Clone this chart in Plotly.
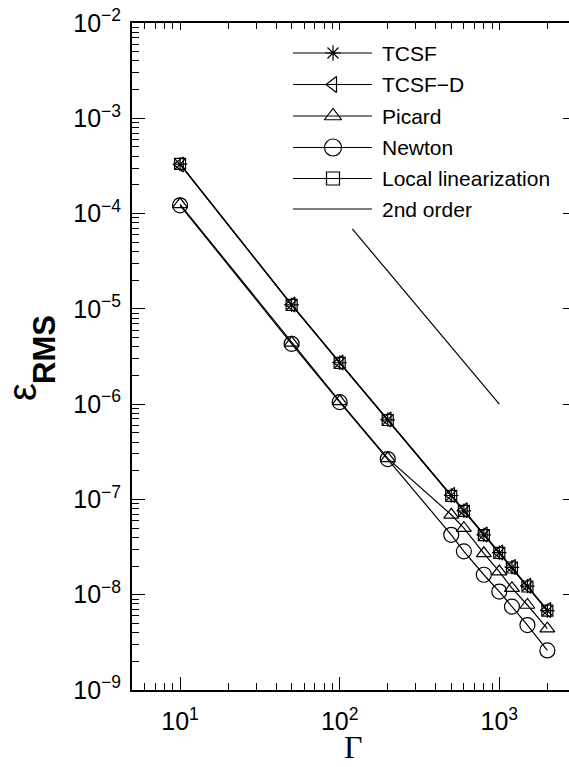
import plotly.graph_objects as go

# Grid parameter and RMS errors of each solver
gamma = [10, 50, 100, 200, 500, 600, 800, 1000, 1200, 1500, 2000]
err_tcsf = [3.30e-4, 1.10e-5, 2.72e-6, 6.85e-7, 1.10e-7, 7.6e-8, 4.25e-8, 2.76e-8, 1.94e-8, 1.23e-8, 6.8e-9]
err_tcsf_d = [3.28e-4, 1.11e-5, 2.74e-6, 6.90e-7, 1.11e-7, 7.7e-8, 4.28e-8, 2.78e-8, 1.95e-8, 1.24e-8, 6.9e-9]
err_picard = [1.25e-4, 4.40e-6, 1.07e-6, 2.70e-7, 6.9e-8, 5.0e-8, 2.72e-8, 1.75e-8, 1.17e-8, 7.8e-9, 4.4e-9]
err_newton = [1.22e-4, 4.30e-6, 1.05e-6, 2.65e-7, 4.25e-8, 2.85e-8, 1.62e-8, 1.08e-8, 7.5e-9, 4.8e-9, 2.6e-9]
err_local = [3.32e-4, 1.10e-5, 2.71e-6, 6.82e-7, 1.09e-7, 7.6e-8, 4.23e-8, 2.75e-8, 1.93e-8, 1.22e-8, 6.8e-9]

# Reference slope line
order2_gamma = [120, 1000]
order2_err = [6.9e-5, 1.0e-6]

# Tick labels
x_ticks = [10, 100, 1000]
x_tick_text = ["10<sup>1</sup>", "10<sup>2</sup>", "10<sup>3</sup>"]
y_ticks = [1e-9, 1e-8, 1e-7, 1e-6, 1e-5, 1e-4, 1e-3, 1e-2]
y_tick_text = ["10<sup>\u22129</sup>", "10<sup>\u22128</sup>", "10<sup>\u22127</sup>",
               "10<sup>\u22126</sup>", "10<sup>\u22125</sup>", "10<sup>\u22124</sup>",
               "10<sup>\u22123</sup>", "10<sup>\u22122</sup>"]

# Series styling: name, data, marker symbol, plot marker size, legend marker size
series = [
    ("TCSF", err_tcsf, "asterisk-open", 12, 13),
    ("TCSF\u2212D", err_tcsf_d, "triangle-left-open", 13, 14),
    ("Picard", err_picard, "triangle-up-open", 13, 15),
    ("Newton", err_newton, "circle-open", 15, 17),
    ("Local linearization", err_local, "square-open", 11, 13),
]

minor_x = [m * 10 ** e for e in range(0, 4) for m in range(2, 10)]
minor_y = [m * 10.0 ** e for e in range(-10, -1) for m in range(2, 10)]

X_RANGE = [0.699, 3.4366]
Y_RANGE = [-9.0, -2.0]
FONT = "Liberation Sans, Arial, sans-serif"

# plot-area box in page pixels (left, right, top, bottom)
PL, PR, PT, PB = 132, 569, 23, 690

fig = go.Figure()

for name, vals, sym, size, _ in series:
    fig.add_trace(go.Scatter(
        x=gamma, y=vals, mode="lines+markers", name=name,
        line=dict(color="black", width=1.2),
        marker=dict(symbol=sym, size=size, color="black",
                    line=dict(color="black", width=1.2)),
        showlegend=False, cliponaxis=False,
    ))

fig.add_trace(go.Scatter(
    x=order2_gamma, y=order2_err, mode="lines", name="2nd order",
    line=dict(color="black", width=1.2), showlegend=False,
))

# Empty trace so the top/right tick axes are rendered
fig.add_trace(go.Scatter(x=[], y=[], xaxis="x2", yaxis="y2", showlegend=False))

# Legend block drawn on a pixel-like overlay axis
leg_rows = [53, 84.5, 116, 147.5, 178.5, 209]
leg_x0, leg_xm, leg_x1, leg_tx = 293, 333, 372, 380
entries = [(s[0], s[2], s[4]) for s in series] + [("2nd order", None, 0)]
for (label, sym, lsize), ry in zip(entries, leg_rows):
    fig.add_trace(go.Scatter(
        x=[leg_x0, leg_x1], y=[ry, ry], mode="lines", xaxis="x3", yaxis="y3",
        line=dict(color="black", width=1.2), showlegend=False, hoverinfo="skip",
    ))
    if sym:
        fig.add_trace(go.Scatter(
            x=[leg_xm], y=[ry], mode="markers", xaxis="x3", yaxis="y3",
            marker=dict(symbol=sym, size=lsize, color="black",
                        line=dict(color="black", width=1.2)),
            showlegend=False, hoverinfo="skip",
        ))
    fig.add_annotation(
        x=leg_tx, y=ry, xref="x3", yref="y3", text=label, showarrow=False,
        xanchor="left", yanchor="middle",
        font=dict(family=FONT, size=21, color="black"),
    )


def px_to_paper(px, py):
    return (px - PL) / (PR - PL), (PB - py) / (PB - PT)


# Axis titles
gx, gy = px_to_paper(353, 747)
fig.add_annotation(
    x=gx, y=gy, xref="paper", yref="paper", text="\u0393",
    showarrow=False, xanchor="center", yanchor="middle",
    font=dict(family="Liberation Serif, Times New Roman, serif", size=32, color="black"),
)
ex, ey = px_to_paper(22, 392)
fig.add_annotation(
    x=ex, y=ey, xref="paper", yref="paper", text="\u03b5",
    showarrow=False, textangle=-90, xanchor="center", yanchor="middle",
    font=dict(family=FONT, size=40, color="black"),
)
rx, ry_ = px_to_paper(44, 350)
fig.add_annotation(
    x=rx, y=ry_, xref="paper", yref="paper", text="<b>RMS</b>",
    showarrow=False, textangle=-90, xanchor="center", yanchor="middle",
    font=dict(family=FONT, size=31, color="black"),
)

axis_common = dict(showgrid=False, zeroline=False)

fig.update_layout(
    width=569, height=767,
    margin=dict(l=PL, r=569 - PR, t=PT, b=767 - PB),
    paper_bgcolor="white", plot_bgcolor="white",
    font=dict(family=FONT, color="black"),
    xaxis=dict(
        type="log", range=X_RANGE, showline=True, linewidth=2, linecolor="black",
        mirror=True, ticks="inside", ticklen=13, tickwidth=1.3, tickcolor="black",
        tickmode="array", tickvals=x_ticks, ticktext=x_tick_text,
        tickfont=dict(family=FONT, size=25, color="black"),
        ticklabelstandoff=8,
        minor=dict(tickmode="array", tickvals=minor_x, ticks="inside", ticklen=7,
                   tickwidth=1.2, tickcolor="black", showgrid=False),
        **axis_common,
    ),
    yaxis=dict(
        type="log", range=Y_RANGE, showline=True, linewidth=2, linecolor="black",
        mirror=False, ticks="inside", ticklen=13, tickwidth=1.3, tickcolor="black",
        tickmode="array", tickvals=y_ticks, ticktext=y_tick_text,
        tickfont=dict(family=FONT, size=25, color="black"),
        ticklabelstandoff=4,
        minor=dict(tickmode="array", tickvals=minor_y, ticks="inside", ticklen=7,
                   tickwidth=1.2, tickcolor="black", showgrid=False),
        **axis_common,
    ),
    xaxis2=dict(
        type="log", range=X_RANGE, overlaying="x", side="top", anchor="y",
        showline=False, ticks="inside", ticklen=7, tickwidth=1.2, tickcolor="black",
        tickmode="array", tickvals=x_ticks, showticklabels=False,
        minor=dict(tickmode="array", tickvals=minor_x, ticks="inside", ticklen=6,
                   tickwidth=1.2, tickcolor="black", showgrid=False),
        **axis_common,
    ),
    yaxis2=dict(
        type="log", range=Y_RANGE, overlaying="y", side="right", anchor="x",
        showline=False, ticks="inside", ticklen=6, tickwidth=1.2, tickcolor="black",
        tickmode="array", tickvals=y_ticks, showticklabels=False,
        **axis_common,
    ),
    xaxis3=dict(range=[PL, PR], overlaying="x", visible=False, fixedrange=True),
    yaxis3=dict(range=[PB, PT], overlaying="y", visible=False, fixedrange=True),
)

fig.write_html("out.html")
